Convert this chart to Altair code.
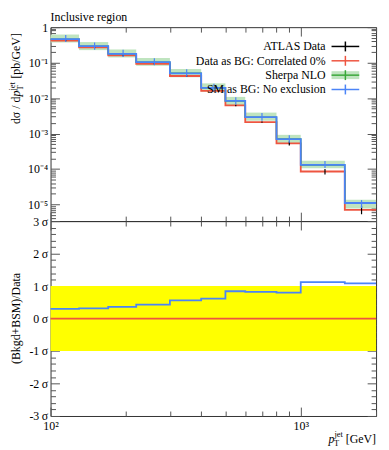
import altair as alt
import pandas as pd

# ---------------- data ----------------
edges = [100, 130, 170, 220, 300, 400, 500, 600, 800, 1000, 1500, 2000]
centers = [115, 150, 195, 260, 350, 450, 550, 700, 900, 1250, 1750]

data_val = [0.42, 0.27, 0.16, 0.093, 0.042, 0.016, 0.0062, 0.0021, 5.3e-4, 8.5e-5, 7.0e-6]
data_lo = [0.40, 0.255, 0.151, 0.088, 0.040, 0.0153, 0.0059, 0.0020, 4.6e-4, 7.0e-5, 5.3e-6]
data_hi = [0.44, 0.285, 0.169, 0.098, 0.044, 0.0167, 0.0065, 0.0022, 6.0e-4, 1.0e-4, 9.0e-6]

sm_val = [0.46, 0.29, 0.177, 0.103, 0.050, 0.0195, 0.0083, 0.0029, 7.0e-4, 1.3e-4, 1.1e-5]
sm_lo = [0.38, 0.23, 0.143, 0.084, 0.040, 0.0155, 0.0066, 0.0023, 5.5e-4, 1.07e-4, 7.9e-6]
sm_hi = [0.60, 0.37, 0.23, 0.132, 0.065, 0.0255, 0.0106, 0.0038, 9.0e-4, 1.68e-4, 1.33e-5]

sherpa_val = [0.46, 0.29, 0.177, 0.103, 0.050, 0.0195, 0.0083, 0.0029, 7.0e-4, 1.3e-4, 1.1e-5]
sherpa_lo = [0.37, 0.225, 0.14, 0.082, 0.039, 0.0152, 0.0064, 0.0023, 5.4e-4, 1.05e-4, 7.7e-6]
sherpa_hi = [0.62, 0.38, 0.235, 0.135, 0.066, 0.026, 0.0108, 0.0039, 9.2e-4, 1.7e-4, 1.35e-5]

ratio_sm = [0.30, 0.31, 0.36, 0.43, 0.56, 0.61, 0.84, 0.82, 0.80, 1.12, 1.08]
ratio_data = [0.0, 0.0, 0.0, 0.0, 0.0, 0.0, 0.0, 0.0, 0.0, 0.0, 0.0]
sigma_lo = [-1.0]
sigma_hi = [1.0]

legend_labels = ["ATLAS Data", "Data as BG: Correlated 0%", "Sherpa NLO", "SM as BG: No exclusion"]

x_ticks = [100, 200, 300, 400, 500, 600, 700, 800, 900, 1000, 2000]
y_ticks = [1e-5, 1e-4, 1e-3, 1e-2, 1e-1, 1.0] + [
    round(k * 10.0 ** e, 12) for e in range(-6, 0) for k in range(2, 10) if 3.4e-6 <= k * 10.0 ** e <= 1
]
r_ticks = [round(-3 + 0.2 * i, 1) for i in range(31)]

# ---------------- style ----------------
FONT = "Liberation Serif"
RED = "#ee5540"
BLUE = "#4b84f7"
GREEN = "#3aa83a"
GREEN_BAND = "#bfe4bf"
TICK = "#555555"

bins = pd.DataFrame({
    "x1": edges[:-1], "x2": edges[1:], "c": centers,
    "dlo": data_lo, "dhi": data_hi, "slo": sm_lo, "shi": sm_hi,
    "glo": sherpa_lo, "ghi": sherpa_hi,
})
steps = pd.DataFrame({
    "x": edges,
    "data": data_val + [data_val[-1]],
    "sm": sm_val + [sm_val[-1]],
    "sherpa": sherpa_val + [sherpa_val[-1]],
    "r_sm": ratio_sm + [ratio_sm[-1]],
    "r_data": ratio_data + [ratio_data[-1]],
})
sig = pd.DataFrame({"x1": [edges[0]], "x2": [edges[-1]], "lo": sigma_lo, "hi": sigma_hi})
one = pd.DataFrame({"d": [0]})

LOGMAJ = "abs(log(datum.value)/LN10 - round(log(datum.value)/LN10)) < 0.001"
LINMAJ = "abs(datum.value - round(datum.value)) < 0.001"


def axis(orient, values, test, label_expr=None, pad=12):
    kw = dict(orient=orient, values=values, title=None, domain=False, grid=False,
              tickSize={"condition": {"test": test, "value": -9}, "value": -5},
              tickColor=TICK, tickWidth=1, labelOverlap=False, labelFlush=False)
    if label_expr:
        kw.update(labels=True, labelExpr=label_expr, labelFont=FONT, labelFontSize=12,
                  labelColor="black", labelPadding=pad)
    else:
        kw.update(labels=False)
    return alt.Axis(**kw)


ylab = ("abs(log(datum.value)/LN10 - round(log(datum.value)/LN10)) < 0.001 ? "
        "(round(log(datum.value)/LN10) == 0 ? '1' : '10' + "
        "['', '⁻¹', '⁻²', '⁻³', '⁻⁴', '⁻⁵', '⁻⁶'][-round(log(datum.value)/LN10)]) : ''")
xlab = "datum.value == 100 ? '10²' : (datum.value == 1000 ? '10³' : '')"
rlab = ("abs(datum.value - round(datum.value)) < 0.001 ? "
        "toString(round(datum.value)) + '\u2009σ' : ''")

xs = alt.Scale(type="log", domain=[100, 2000], nice=False)
ys_top = alt.Scale(type="log", domain=[3.4e-6, 1], nice=False)
ys_bot = alt.Scale(domain=[-3, 3], nice=False, zero=False)


def txt(s, x, y, size=12, **kw):
    return alt.Chart(one).mark_text(text=s, font=FONT, fontSize=size, color="black", **kw).encode(
        x=alt.value(x), y=alt.value(y))


def hseg(x1, x2, y, color, sw=1.5):
    return alt.Chart(one).mark_rule(color=color, strokeWidth=sw).encode(
        x=alt.value(x1), x2=alt.value(x2), y=alt.value(y))


def vseg(x, y1, y2, color, sw=1.5):
    return alt.Chart(one).mark_rule(color=color, strokeWidth=sw).encode(
        x=alt.value(x), y=alt.value(y1), y2=alt.value(y2))


# ---------------- top panel ----------------
band = alt.Chart(bins).mark_rect(color=GREEN_BAND).encode(
    x=alt.X("x1:Q", scale=xs, axis=axis("bottom", x_ticks, LOGMAJ)),
    x2="x2",
    y=alt.Y("glo:Q", scale=ys_top, axis=axis("left", y_ticks, LOGMAJ, ylab)),
    y2="ghi",
)
red_line = alt.Chart(steps).mark_line(interpolate="step-after", color=RED, strokeWidth=1.8).encode(
    x=alt.X("x:Q", scale=xs, axis=axis("top", x_ticks, LOGMAJ)),
    y=alt.Y("data:Q", scale=ys_top, axis=axis("right", y_ticks, LOGMAJ)),
)
green_line = alt.Chart(steps).mark_line(interpolate="step-after", color=GREEN, strokeWidth=1.5).encode(
    x=alt.X("x:Q", scale=xs, axis=None),
    y=alt.Y("sherpa:Q", scale=ys_top, axis=None),
)
data_err = alt.Chart(bins).mark_rule(color="black", strokeWidth=1.2).encode(
    x=alt.X("c:Q", scale=xs, axis=None),
    y=alt.Y("dlo:Q", scale=ys_top, axis=None),
    y2="dhi",
)
blue_line = alt.Chart(steps).mark_line(interpolate="step-after", color=BLUE, strokeWidth=1.8).encode(
    x=alt.X("x:Q", scale=xs, axis=None),
    y=alt.Y("sm:Q", scale=ys_top, axis=None),
)
blue_err = alt.Chart(bins).mark_rule(color=BLUE, strokeWidth=1.2).encode(
    x=alt.X("c:Q", scale=xs, axis=None),
    y=alt.Y("slo:Q", scale=ys_top, axis=None),
    y2="shi",
)

# title and y-axis title (composed for sub/superscripts)
top_text = [
    txt("Inclusive region", 0, -6.5, align="left", baseline="alphabetic"),
    txt("dσ / d", -31, 98, angle=270, align="left", baseline="alphabetic"),
    txt("p", -31, 70, angle=270, align="left", baseline="alphabetic", fontStyle="italic"),
    txt("T", -28, 64, size=8.5, angle=270, align="left", baseline="alphabetic"),
    txt("jet", -35.5, 64, size=8.5, angle=270, align="left", baseline="alphabetic"),
    txt("[pb/GeV]", -31, 52, angle=270, align="left", baseline="alphabetic"),
]

# legend
leg_y = [19.5, 34, 48.5, 63]
leg_col = ["black", RED, GREEN, BLUE]
legend = []
for lab, yy, col in zip(legend_labels, leg_y, leg_col):
    legend.append(txt(lab, 278, yy, align="right", baseline="middle"))
    if col == GREEN:
        legend.append(alt.Chart(one).mark_rect(color=GREEN_BAND).encode(
            x=alt.value(284), x2=alt.value(312), y=alt.value(yy - 4), y2=alt.value(yy + 4)))
    legend.append(hseg(284, 312, yy, col))
    legend.append(vseg(298, yy - 5, yy + 5, col))

top = alt.layer(band, red_line, green_line, data_err, blue_line, blue_err, *top_text, *legend).resolve_axis(
    x="independent", y="independent").properties(width=329, height=196)

# ---------------- ratio panel ----------------
yellow = alt.Chart(sig).mark_rect(color="#ffff00").encode(
    x=alt.X("x1:Q", scale=xs, axis=axis("bottom", x_ticks, LOGMAJ, xlab, pad=14)),
    x2="x2",
    y=alt.Y("lo:Q", scale=ys_bot, axis=axis("left", r_ticks, LINMAJ, rlab)),
    y2="hi",
)
red_r = alt.Chart(steps).mark_line(interpolate="step-after", color=RED, strokeWidth=1.8).encode(
    x=alt.X("x:Q", scale=xs, axis=axis("top", x_ticks, LOGMAJ)),
    y=alt.Y("r_data:Q", scale=ys_bot, axis=axis("right", r_ticks, LINMAJ)),
)
blue_r = alt.Chart(steps).mark_line(interpolate="step-after", color=BLUE, strokeWidth=1.8).encode(
    x=alt.X("x:Q", scale=xs, axis=None),
    y=alt.Y("r_sm:Q", scale=ys_bot, axis=None),
)
bot_text = [
    txt("(Bkgd+BSM)/Data", -31, 98.5, angle=270, align="center", baseline="alphabetic"),
    txt("p", 281, 224, align="left", baseline="alphabetic", fontStyle="italic"),
    txt("T", 286.5, 227, size=8.5, align="left", baseline="alphabetic"),
    txt("jet", 287, 218, size=8.5, align="left", baseline="alphabetic"),
    txt("[GeV]", 329, 224, align="right", baseline="alphabetic"),
]

bottom = alt.layer(yellow, red_r, blue_r, *bot_text).resolve_axis(
    x="independent", y="independent").properties(width=329, height=197)

chart = alt.vconcat(top, bottom, spacing=0, bounds="flush").properties(
    padding={"left": 0, "right": 0, "top": 0, "bottom": 0},
    background="white",
).configure_view(stroke="#333333", strokeWidth=1)

chart.save("out.html", embed_options={"renderer": "svg", "actions": False})
